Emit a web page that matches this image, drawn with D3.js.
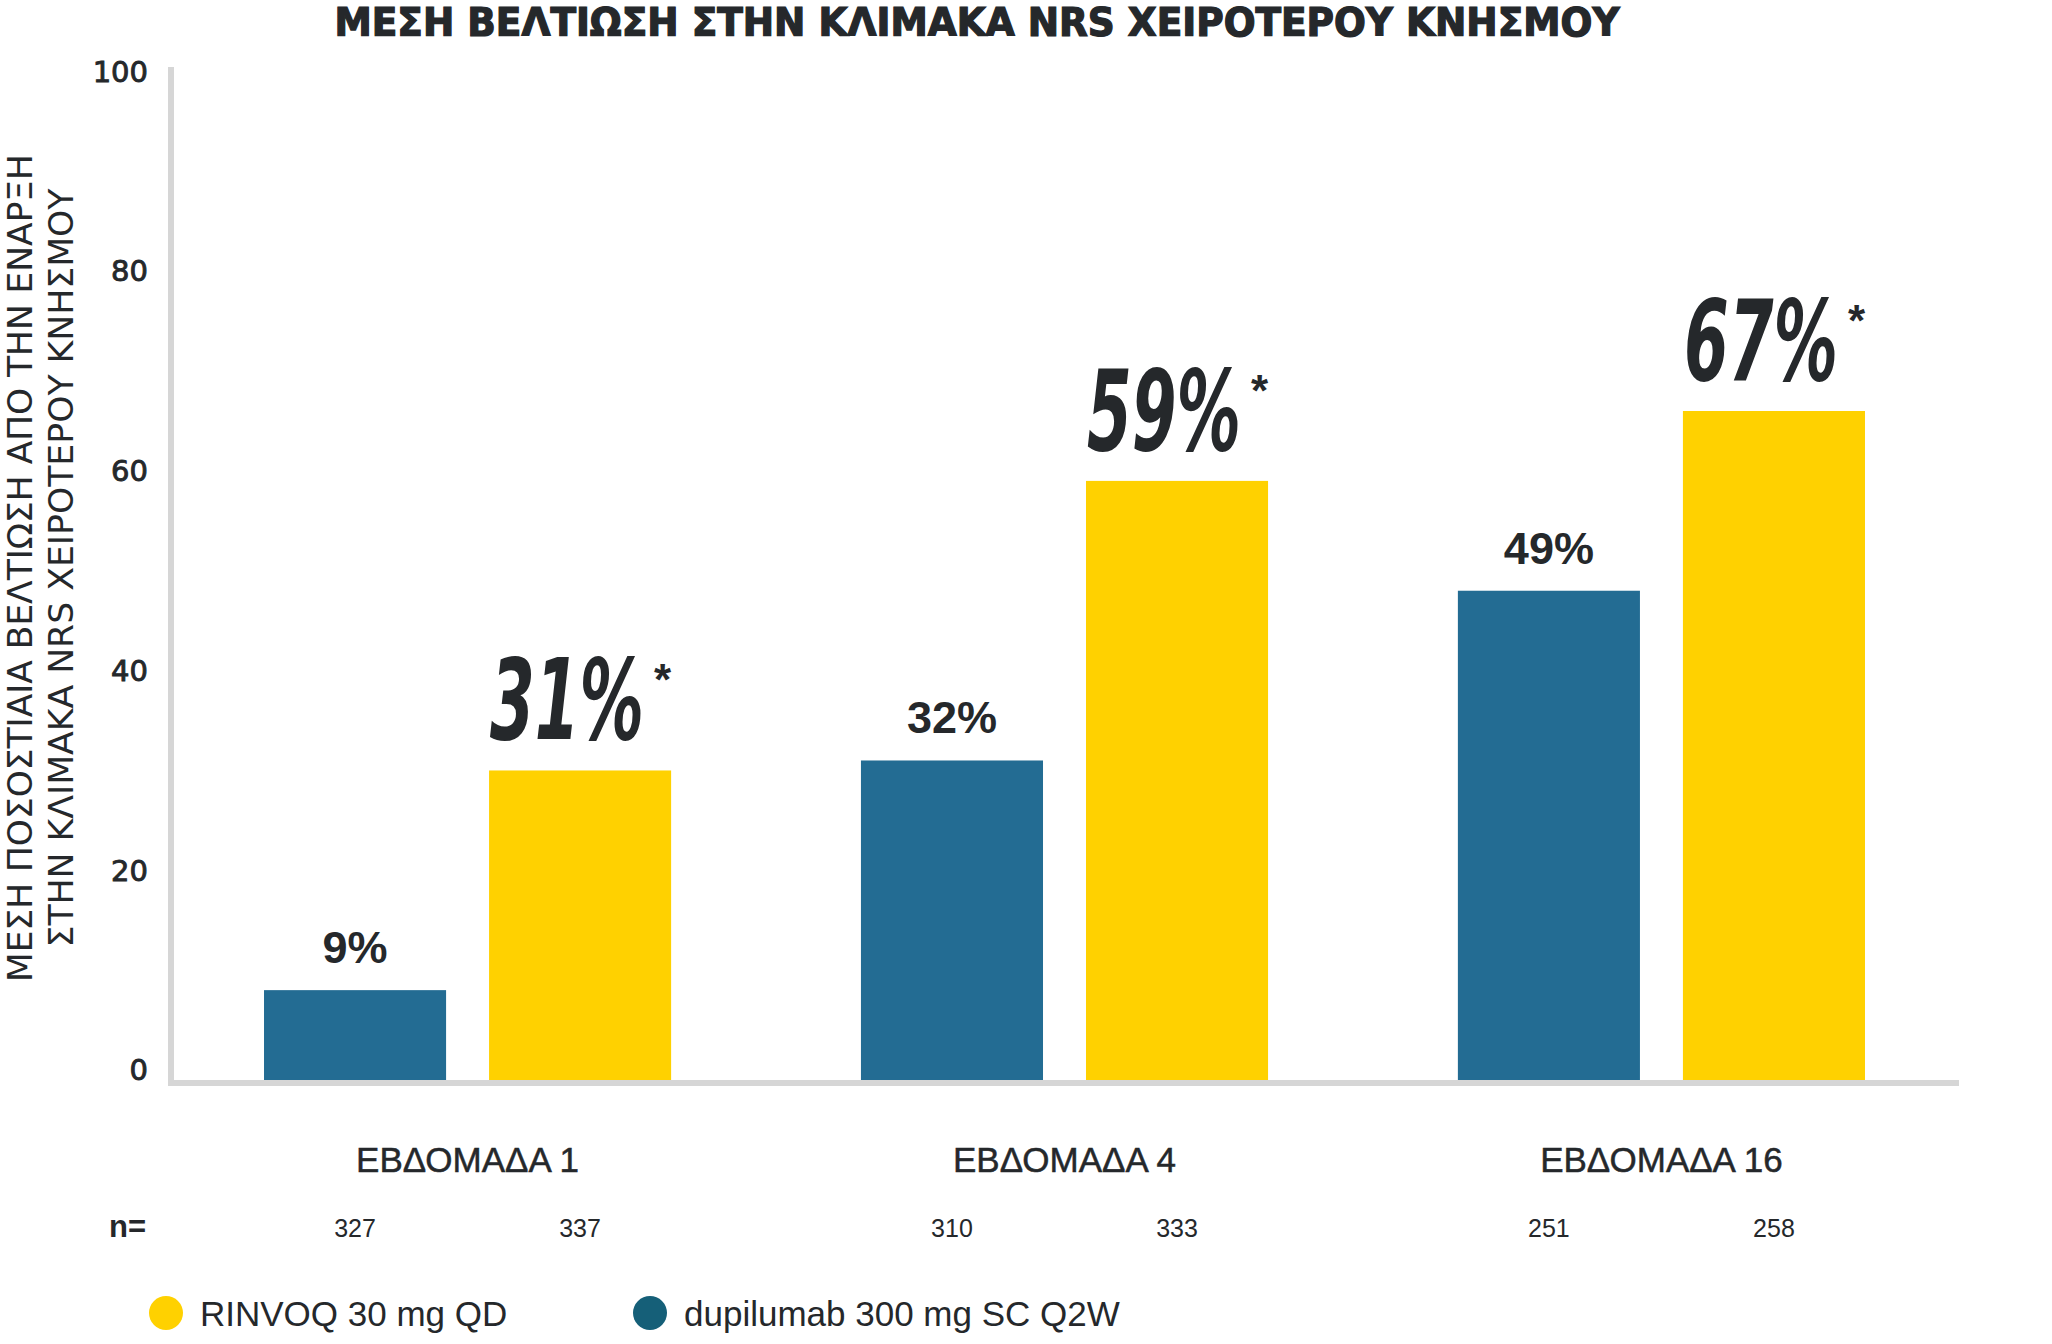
<!DOCTYPE html>
<html>
<head>
<meta charset="utf-8">
<script src="https://cdn.jsdelivr.net/npm/d3@7/dist/d3.min.js"></script>
<style>
  html, body { margin: 0; padding: 0; background: #ffffff; }
  svg { display: block; }
</style>
</head>
<body>
<svg id="chart" width="2052" height="1344"></svg>
<script>
// ---------- data ----------
const title = "ΜΕΣΗ ΒΕΛΤΙΩΣΗ ΣΤΗΝ ΚΛΙΜΑΚΑ NRS ΧΕΙΡΟΤΕΡΟΥ ΚΝΗΣΜΟΥ";
const yLabelLines = ["ΜΕΣΗ ΠΟΣΟΣΤΙΑΙΑ ΒΕΛΤΙΩΣΗ ΑΠΟ ΤΗΝ ΕΝΑΡΞΗ", "ΣΤΗΝ ΚΛΙΜΑΚΑ NRS ΧΕΙΡΟΤΕΡΟΥ ΚΝΗΣΜΟΥ"];
const categories = ["ΕΒΔΟΜΑΔΑ 1", "ΕΒΔΟΜΑΔΑ 4", "ΕΒΔΟΜΑΔΑ 16"];
const seriesKeys = ["dupilumab", "rinvoq"];
const dupilumabValues = [9, 32, 49];
const rinvoqValues = [31, 60, 67];
const dupilumabLabels = ["9%", "32%", "49%"];
const rinvoqLabels = ["31%", "59%", "67%"];
const dupilumabN = ["327", "310", "251"];
const rinvoqN = ["337", "333", "258"];
const yTicks = [0, 20, 40, 60, 80, 100];
const legendItems = ["RINVOQ 30 mg QD", "dupilumab 300 mg SC Q2W"];

// ---------- styles ----------
const COL_TEXT = "#25282b";
const COL_BLUE = "#236c93";
const COL_BLUE_LEG = "#155f78";
const COL_YELLOW = "#ffd100";
const COL_AXIS = "#d6d6d6";
const SANS = "'Liberation Sans', Arial, sans-serif";
const NARROW = "'Liberation Sans Narrow', 'DejaVu Sans Condensed', 'Liberation Sans', sans-serif";

const svg = d3.select("#chart");

// ---------- scales ----------
const x0 = d3.scaleBand().domain(categories).range([170, 1959]).paddingInner(0.318).paddingOuter(0.1575);
const x1 = d3.scaleBand().domain(seriesKeys).range([0, x0.bandwidth()]).paddingInner(0.191).paddingOuter(0);
const y = d3.scaleLinear().domain([0, 100]).range([1080, 81.5]);

const rows = categories.map((c, i) => ({
  cat: c,
  bars: [
    { key: "dupilumab", value: dupilumabValues[i], label: dupilumabLabels[i], n: dupilumabN[i] },
    { key: "rinvoq", value: rinvoqValues[i], label: rinvoqLabels[i], n: rinvoqN[i] }
  ]
}));
const color = d3.scaleOrdinal().domain(seriesKeys).range([COL_BLUE, COL_YELLOW]);

// ---------- title ----------
svg.append("text")
  .attr("x", 977).attr("y", 36)
  .attr("text-anchor", "middle")
  .attr("font-family", NARROW).attr("font-weight", "bold")
  .attr("font-size", 39).attr("fill", COL_TEXT)
  .attr("stroke", COL_TEXT).attr("stroke-width", 1.2)
  .attr("textLength", 1285).attr("lengthAdjust", "spacingAndGlyphs")
  .text(title);

// ---------- y axis label ----------
const yl = [ {x: 32, len: 828}, {x: 73, len: 759} ];
yLabelLines.forEach((t, i) => {
  svg.append("text")
    .attr("transform", `translate(${yl[i].x},568) rotate(-90)`)
    .attr("text-anchor", "middle")
    .attr("font-family", NARROW).attr("font-size", 34)
    .attr("fill", COL_TEXT)
    .attr("textLength", yl[i].len).attr("lengthAdjust", "spacingAndGlyphs")
    .text(t);
});

// ---------- bars ----------
const g = svg.append("g");
const groups = g.selectAll("g.grp").data(rows).join("g")
  .attr("class", "grp")
  .attr("transform", d => `translate(${x0(d.cat)},0)`);

groups.selectAll("rect").data(d => d.bars).join("rect")
  .attr("x", d => x1(d.key))
  .attr("width", x1.bandwidth())
  .attr("y", d => y(d.value))
  .attr("height", d => y(0) - y(d.value))
  .attr("fill", d => color(d.key));

// dupilumab value labels
groups.selectAll("text.dl").data(d => d.bars.filter(b => b.key === "dupilumab")).join("text")
  .attr("class", "dl")
  .attr("x", d => x1(d.key) + x1.bandwidth() / 2)
  .attr("y", d => y(d.value) - 27)
  .attr("text-anchor", "middle")
  .attr("font-family", SANS).attr("font-weight", "bold")
  .attr("font-size", 45).attr("fill", COL_TEXT)
  .text(d => d.label);

// rinvoq value labels (big italic) with superscript asterisk in one text
const rl = groups.selectAll("text.rl").data(d => d.bars.filter(b => b.key === "rinvoq")).join("text")
  .attr("class", "rl")
  .attr("x", d => x1(d.key) + x1.bandwidth() / 2 - 90)
  .attr("y", d => y(d.value) - 31)
  .attr("text-anchor", "start")
  .attr("fill", COL_TEXT);
rl.append("tspan")
  .attr("font-family", NARROW).attr("font-weight", "bold").attr("font-style", "italic")
  .attr("font-size", 112)
  .attr("textLength", 154).attr("lengthAdjust", "spacingAndGlyphs")
  .text(d => d.label);
rl.append("tspan")
  .attr("dx", 10).attr("dy", -44)
  .attr("font-family", SANS).attr("font-weight", "bold")
  .attr("font-size", 44)
  .text("*");

// ---------- axes ----------
svg.append("rect").attr("x", 168).attr("y", 67).attr("width", 6).attr("height", 1019).attr("fill", COL_AXIS);
svg.append("rect").attr("x", 168).attr("y", 1080).attr("width", 1959 - 168).attr("height", 6).attr("fill", COL_AXIS);

const yAxis = d3.axisLeft(y).tickValues(yTicks).tickSize(0).tickPadding(0);
const ya = svg.append("g").attr("transform", "translate(148,-9.5)").call(yAxis);
ya.select(".domain").remove();
ya.selectAll("text")
  .attr("font-family", "'DejaVu Sans', sans-serif")
  .attr("font-size", 29).attr("fill", COL_TEXT)
  .attr("stroke", COL_TEXT).attr("stroke-width", 0.9);

// ---------- category labels ----------
svg.selectAll("text.cat").data(categories).join("text")
  .attr("class", "cat")
  .attr("x", d => x0(d) + x0.bandwidth() / 2)
  .attr("y", 1172)
  .attr("text-anchor", "middle")
  .attr("font-family", SANS).attr("font-size", 35)
  .attr("fill", COL_TEXT)
  .attr("stroke", COL_TEXT).attr("stroke-width", 0.5)
  .text(d => d);

// ---------- n values ----------
svg.append("text")
  .attr("x", 109).attr("y", 1237)
  .attr("font-family", SANS).attr("font-weight", "bold").attr("font-size", 31)
  .attr("fill", COL_TEXT).text("n=");
groups.selectAll("text.n").data(d => d.bars).join("text")
  .attr("class", "n")
  .attr("x", d => x1(d.key) + x1.bandwidth() / 2)
  .attr("y", 1237)
  .attr("text-anchor", "middle")
  .attr("font-family", SANS).attr("font-size", 25)
  .attr("fill", COL_TEXT)
  .text(d => d.n);

// ---------- legend ----------
const legendPos = [166, 650];
const legendColors = [COL_YELLOW, COL_BLUE_LEG];
const lg = svg.selectAll("g.leg").data(legendItems).join("g")
  .attr("class", "leg")
  .attr("transform", (d, i) => `translate(${legendPos[i]},1313)`);
lg.append("circle").attr("r", 17).attr("fill", (d, i) => legendColors[i]);
lg.append("text")
  .attr("x", 34).attr("y", 13)
  .attr("font-family", SANS).attr("font-size", 35)
  .attr("fill", COL_TEXT)
  .text(d => d);
</script>
</body>
</html>
